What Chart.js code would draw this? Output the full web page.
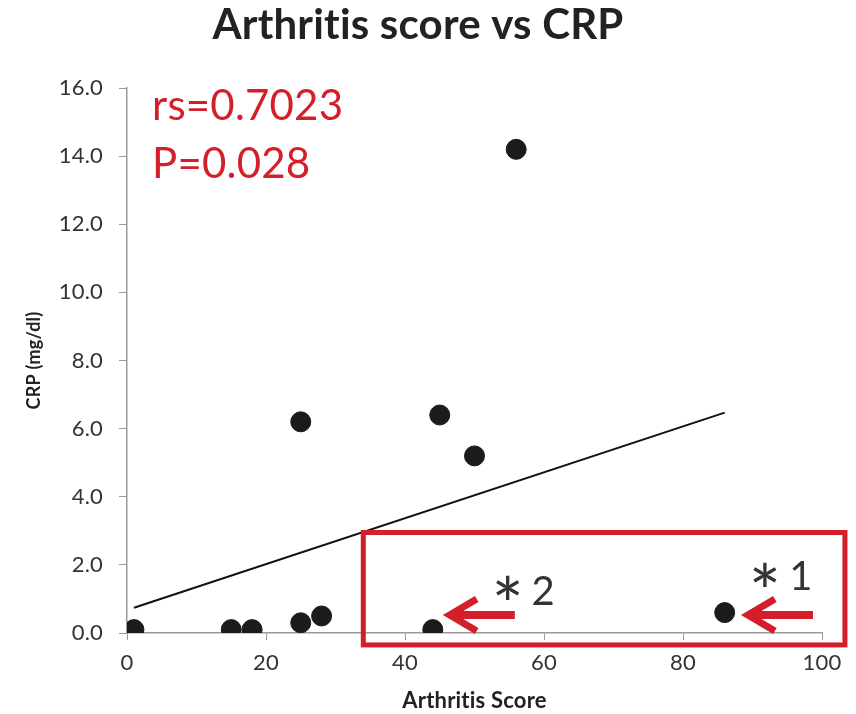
<!DOCTYPE html>
<html>
<head>
<meta charset="utf-8">
<script src="https://cdn.jsdelivr.net/npm/chart.js@4.4.1/dist/chart.umd.min.js"></script>
<style>
  html, body { margin: 0; padding: 0; background: #fff; }
  #wrap { width: 856px; height: 714px; }
</style>
</head>
<body>
<div id="wrap"><canvas id="chart" width="856" height="714"></canvas></div>
<script>
// data
const arthritisScore = [1, 15, 18, 25, 25, 28, 44, 45, 50, 56, 86];
const crpValues = [0.1, 0.1, 0.1, 0.3, 6.2, 0.5, 0.1, 6.4, 5.2, 14.2, 0.6];
const trendX = [1, 86];
const trendY = [0.74, 6.47];
const xTicks = [0, 20, 40, 60, 80, 100];
const yTicks = [0, 2, 4, 6, 8, 10, 12, 14, 16];
const statLabels = ["rs=0.7023", "P=0.028"];

// annotations (in data units)
const boxX = [34, 103.3];
const boxY = [-0.35, 2.95];
const arrowTails = [[98.7, 0.53], [55.8, 0.53]];
const arrowTips = [[88.9, 0.53], [46.0, 0.53]];
const starPos = [[91.8, 1.68], [54.8, 1.29]];
const markerNums = ["1", "2"];
const numPos = [[95.3, 1.65], [58.2, 1.2]];

const FONT = "Lato, 'Open Sans', sans-serif";
const RED = "#d41f2a";

const overlay = {
  id: "overlay",
  beforeDraw(chart) {
    // avoid the "ti" ligature of Lato
    chart.ctx.letterSpacing = "0.2px";
  },
  afterDatasetsDraw(chart) {
    const c = chart.ctx;
    const xs = chart.scales.x, ys = chart.scales.y;
    c.save();

    // stats text
    c.fillStyle = RED;
    c.font = "42px " + FONT;
    c.textBaseline = "middle";
    c.textAlign = "left";
    c.fillText(statLabels[0], xs.getPixelForValue(3.6), ys.getPixelForValue(15.45));
    c.fillText(statLabels[1], xs.getPixelForValue(3.6), ys.getPixelForValue(13.75));

    // red box
    c.strokeStyle = RED;
    c.lineWidth = 5;
    const bx0 = xs.getPixelForValue(boxX[0]), bx1 = xs.getPixelForValue(boxX[1]);
    const by0 = ys.getPixelForValue(boxY[1]), by1 = ys.getPixelForValue(boxY[0]);
    c.strokeRect(bx0, by0, bx1 - bx0, by1 - by0);

    // arrows
    c.lineCap = "butt";
    c.lineJoin = "miter";
    for (let i = 0; i < arrowTips.length; i++) {
      const tx = xs.getPixelForValue(arrowTips[i][0]), ty = ys.getPixelForValue(arrowTips[i][1]);
      const sx = xs.getPixelForValue(arrowTails[i][0]), sy = ys.getPixelForValue(arrowTails[i][1]);
      c.lineWidth = 8;
      c.beginPath();
      c.moveTo(sx, sy);
      c.lineTo(tx + 6, ty);
      c.stroke();
      c.lineWidth = 7;
      c.beginPath();
      c.moveTo(tx + 30, ty - 16);
      c.lineTo(tx + 3, ty);
      c.lineTo(tx + 30, ty + 16);
      c.stroke();
    }

    // marker labels "* 1", "* 2"
    c.fillStyle = "#333";
    for (let i = 0; i < markerNums.length; i++) {
      c.font = "76px " + FONT;
      c.textAlign = "center";
      c.textBaseline = "alphabetic";
      c.fillText("*", xs.getPixelForValue(starPos[i][0]), ys.getPixelForValue(starPos[i][1]) + 44);
      c.font = "40px " + FONT;
      c.textAlign = "left";
      c.textBaseline = "middle";
      c.fillText(markerNums[i], xs.getPixelForValue(numPos[i][0]), ys.getPixelForValue(numPos[i][1]));
    }
    c.restore();
  }
};

new Chart(document.getElementById("chart"), {
  type: "scatter",
  data: {
    datasets: [
      {
        label: "trend",
        data: trendX.map((x, i) => ({ x: x, y: trendY[i] })),
        showLine: true,
        borderColor: "#111",
        borderWidth: 2,
        pointRadius: 0,
        order: 2
      },
      {
        label: "CRP",
        data: arthritisScore.map((x, i) => ({ x: x, y: crpValues[i] })),
        backgroundColor: "#1b1b1b",
        borderColor: "#1b1b1b",
        pointRadius: 10,
        order: 1
      }
    ]
  },
  options: {
    responsive: false,
    animation: false,
    layout: { padding: { left: 14, right: 34, top: 0, bottom: 0 } },
    plugins: {
      legend: { display: false },
      tooltip: { enabled: false },
      title: {
        display: true,
        text: "Arthritis score vs CRP",
        color: "#222",
        font: { family: FONT, size: 42, weight: "bold" },
        padding: { top: 0, bottom: 37.6 }
      }
    },
    scales: {
      x: {
        type: "linear",
        min: 0,
        max: 100,
        afterFit(scale) { scale.height = 81; },
        afterBuildTicks(scale) { scale.ticks = xTicks.map(v => ({ value: v })); },
        ticks: { color: "#333", font: { family: FONT, size: 22 }, padding: 10 },
        grid: { drawOnChartArea: false, drawTicks: true, tickLength: 7, color: "#999" },
        border: { color: "#999", width: 1.5 },
        title: {
          display: true,
          text: "Arthritis Score",
          color: "#222",
          font: { family: FONT, size: 22, weight: "bold" },
          padding: { top: 0, bottom: 0 }
        }
      },
      y: {
        type: "linear",
        min: 0,
        max: 16,
        afterFit(scale) { scale.width = 113; },
        afterBuildTicks(scale) { scale.ticks = yTicks.map(v => ({ value: v })); },
        ticks: {
          color: "#333",
          font: { family: FONT, size: 22 },
          padding: 16,
          callback: v => Number(v).toFixed(1)
        },
        grid: { drawOnChartArea: false, drawTicks: true, tickLength: 8, color: "#999" },
        border: { color: "#999", width: 1.5 },
        title: {
          display: true,
          text: "CRP (mg/dl)",
          color: "#222",
          font: { family: FONT, size: 18, weight: "bold" },
          padding: { top: 9, bottom: 0 }
        }
      }
    }
  },
  plugins: [overlay]
});
</script>
</body>
</html>
